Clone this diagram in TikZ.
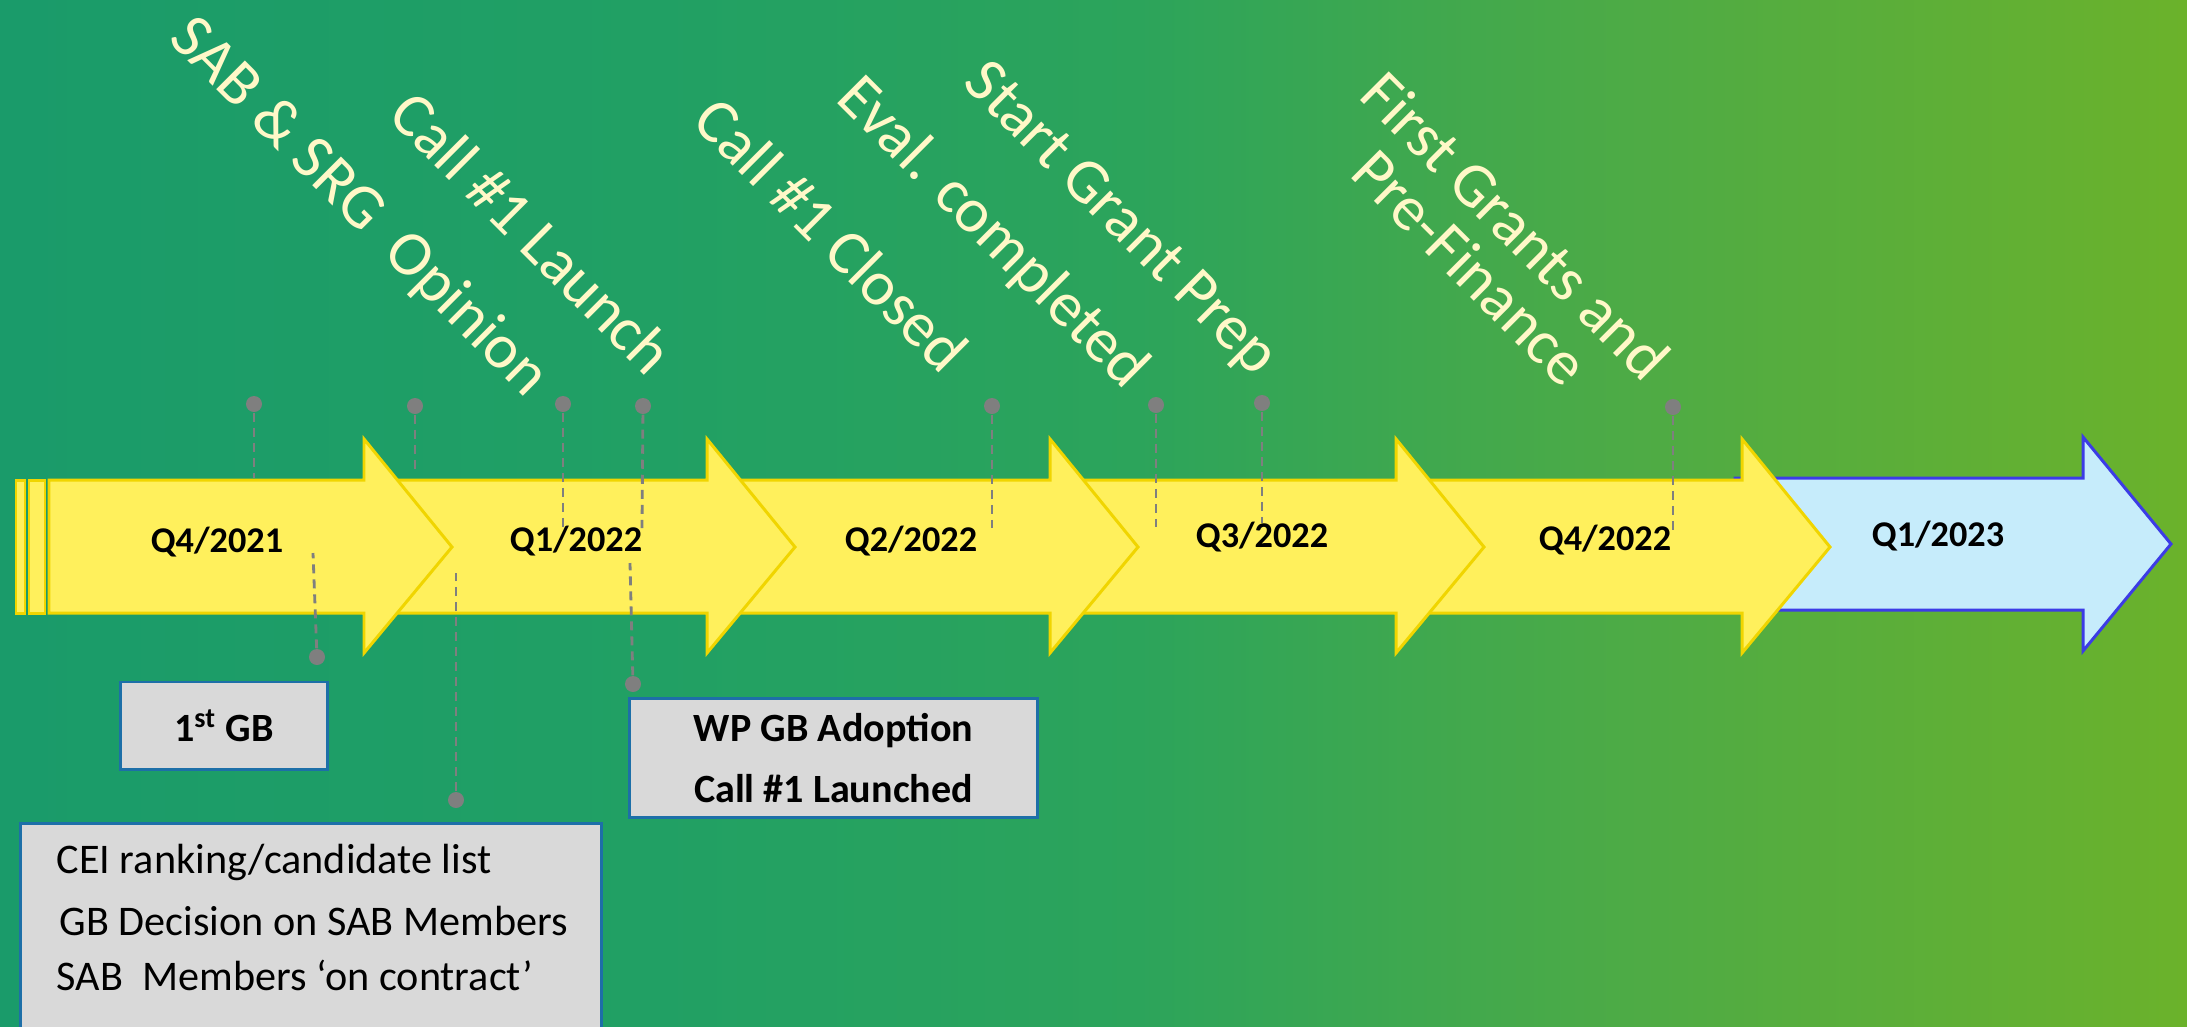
\documentclass[tikz,border=0pt]{standalone}
\usepackage{fontspec}
\setmainfont{Carlito}

\definecolor{bgA}{HTML}{1A9B6A}
\definecolor{bgB}{HTML}{21A064}
\definecolor{bgC}{HTML}{2CA45B}
\definecolor{bgD}{HTML}{4EAB45}
\definecolor{bgE}{HTML}{6BB22B}
\definecolor{arrowfill}{HTML}{FFF05C}
\definecolor{arrowline}{HTML}{F0D500}
\definecolor{lastfill}{HTML}{C6ECFB}
\definecolor{lastline}{HTML}{3C3CE6}
\definecolor{pingray}{HTML}{7F7F7F}
\definecolor{boxfill}{HTML}{D9D9D9}
\definecolor{boxline}{HTML}{1D6FA8}
\definecolor{labeltext}{HTML}{FFF8C8}

\tikzset{
    qarrow/.style={draw=arrowline, fill=arrowfill, line width=0.85pt},
    lastarrow/.style={draw=lastline, fill=lastfill, line width=0.85pt},
    qlabel/.style={anchor=base, inner sep=0, font=\bfseries\fontsize{10.3}{12}\selectfont},
    milestone/.style={anchor=base west, inner sep=0, rotate=-45, text=labeltext, font=\fontsize{18}{20}\selectfont},
    pindot/.style={circle, fill=pingray, inner sep=0, minimum size=0.16cm},
    pinline/.style={pingray, line width=0.8pt, dash pattern=on 0.09cm off 0.06cm},
    infobox/.style={draw=boxline, fill=boxfill, line width=0.85pt, inner sep=0},
    boxtext/.style={anchor=base west, inner sep=0, font=\fontsize{12}{14}\selectfont},
}

\begin{document}
\begin{tikzpicture}[x=0.01cm, y=-0.01cm]
    \useasboundingbox (0,0) rectangle (2187,1026);
    %\draw[gray!50, thin, step=100] (0,0) grid (2187,1026);

    \shade[left color=bgA, right color=bgB] (0,0) rectangle (657,1026);
    \shade[left color=bgB, right color=bgC] (656,0) rectangle (1138,1026);
    \shade[left color=bgC, right color=bgD] (1137,0) rectangle (1641,1026);
    \shade[left color=bgD, right color=bgE] (1640,0) rectangle (2187,1026);

    % quarter arrows, the last one first so that each head lies on the next
    \draw[lastarrow] (1735,478) -- (2083,478) -- (2083,437) -- (2171,544) -- (2083,651) -- (2083,610) -- (1735,610) -- cycle;
    \foreach \s/\t in {1396/1830,1050/1484,707/1138,364/795,49/452}
        \draw[qarrow] (\s,480) -- (\t-88,480) -- (\t-88,439) -- (\t,547) -- (\t-88,653) -- (\t-88,613) -- (\s,613) -- cycle;
    \draw[qarrow] (16,480) rectangle (25,613);
    \draw[qarrow] (29,480) rectangle (45,613);

    % pins
    \foreach \n/\x/\y/\ex/\ey in {t1/254/404/254/478, t2/415/406/415/472, t3/563/404/563/527, t4/643/406/642/528,
            t5/992/406/992/528, t6/1156/405/1156/527, t7/1262/403/1262/523, t8/1673/407/1673/530,
            b1/317/657/313/553, b2/456/800/456/573, b3/633/684/630/563}{
        \node[pindot] (\n) at (\x,\y) {};
        \coordinate (\n end) at (\ex,\ey);
        \draw[pinline] (\n) -- (\n end);
    }

    \node[qlabel] (q4a) at (217,552) {Q4/2021};
    \node[qlabel] (q1b) at (576,551) {Q1/2022};
    \node[qlabel] (q2b) at (911,551) {Q2/2022};
    \node[qlabel] (q3b) at (1262,547) {Q3/2022};
    \node[qlabel] (q4b) at (1605,550) {Q4/2022};
    \node[qlabel] (q1c) at (1938,546) {Q1/2023};

    \node[milestone] (sab) at (167,40) {SAB \& SRG\ \ Opinion};
    \node[milestone] (launch) at (386,117) {Call \#1 Launch};
    \node[milestone] (closed) at (690,123) {Call \#1 Closed};
    \node[milestone] (eval) at (834,100) {Eval. completed};
    \node[milestone] (prep) at (961,84) {Start Grant Prep};
    \node[milestone] (first) at (1357,97) {First Grants and};
    \node[milestone] (prefin) at (1348,175) {Pre-Finance};

    \node[infobox, minimum width=2.06cm, minimum height=0.87cm, font=\bfseries\fontsize{11.4}{14}\selectfont] (gb) at (224,725.5) {1\textsuperscript{st} GB};
    \node[infobox, minimum width=4.07cm, minimum height=1.18cm, align=center, font=\bfseries\fontsize{11.4}{17.4}\selectfont] (wp) at (833.5,758) {WP GB Adoption\\Call \#1 Launched};
    \node[infobox, anchor=north west, minimum width=5.81cm, minimum height=2.3cm] (cei) at (19,822) {};
    \node[boxtext] (cei1) at (56,873) {CEI ranking/candidate list};
    \node[boxtext] (cei2) at (59,935) {GB Decision on SAB Members};
    \node[boxtext] (cei3) at (56,990) {SAB\ \ Members ‘on contract’};
\end{tikzpicture}
\end{document}
